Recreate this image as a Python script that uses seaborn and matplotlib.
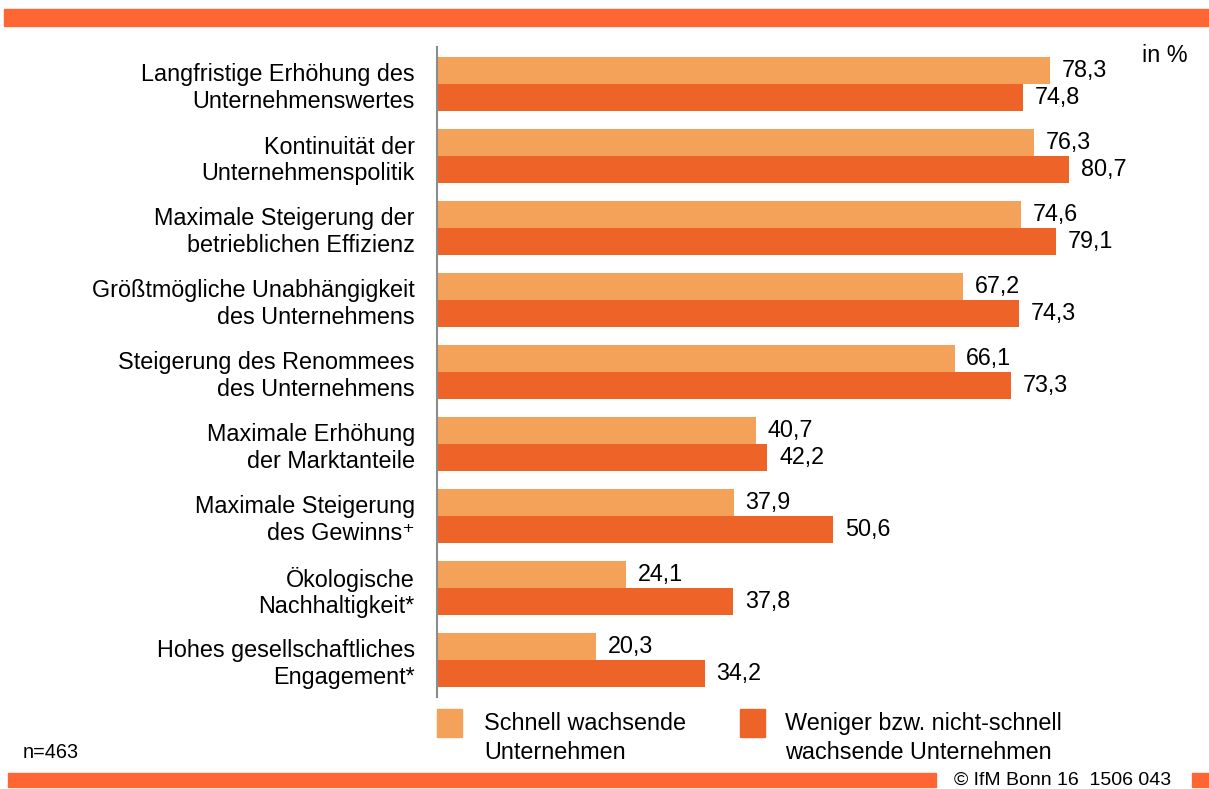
import pandas as pd
import seaborn as sns
import matplotlib.pyplot as plt
from matplotlib.patches import Rectangle

# Ziele der Unternehmen (Anteil in %)
categories = [
    'Langfristige Erhöhung des\nUnternehmenswertes',
    'Kontinuität der\nUnternehmenspolitik',
    'Maximale Steigerung der\nbetrieblichen Effizienz',
    'Größtmögliche Unabhängigkeit\ndes Unternehmens',
    'Steigerung des Renommees\ndes Unternehmens',
    'Maximale Erhöhung\nder Marktanteile',
    'Maximale Steigerung\ndes Gewinns\u207a',
    'Ökologische\nNachhaltigkeit*',
    'Hohes gesellschaftliches\nEngagement*',
]
schnell = [78.3, 76.3, 74.6, 67.2, 66.1, 40.7, 37.9, 24.1, 20.3]
weniger = [74.8, 80.7, 79.1, 74.3, 73.3, 42.2, 50.6, 37.8, 34.2]
series_names = ['Schnell wachsende\nUnternehmen',
                'Weniger bzw. nicht-schnell\nwachsende Unternehmen']
colors = ['#F4A25A', '#EE6327']
band = '#FF6633'

df = pd.DataFrame({
    'ziel': categories * 2,
    'wert': schnell + weniger,
    'gruppe': [series_names[0]] * len(categories) + [series_names[1]] * len(categories),
})

sns.set_style('white')
plt.rcParams['font.family'] = ['Liberation Sans', 'DejaVu Sans']
plt.rcParams['text.color'] = 'black'

W, H = 1209, 789
fs = 16.8
fig = plt.figure(figsize=(W / 100, H / 100), dpi=100)
# axis from x=437 to 1200 px, y from 47 to 697 px
ax = fig.add_axes([437 / W, 1 - 697 / H, (1200 - 437) / W, 650 / H])

sns.barplot(data=df, x='wert', y='ziel', hue='gruppe', hue_order=series_names,
            palette=colors, saturation=1, width=0.75, linewidth=0, ax=ax, legend=False)

ax.set_xlim(0, (1200 - 437) / 7.83)
ax.set_ylim(8 + 37 / 72, -37 / 72)

for cont in ax.containers:
    ax.bar_label(cont, labels=[f'{v:.1f}'.replace('.', ',') for v in cont.datavalues],
                 padding=8.5, fontsize=fs, color='black')

ax.set_xlabel('')
ax.set_ylabel('')
ax.set_xticks([])
ax.tick_params(axis='y', length=0, pad=16, labelsize=fs, labelcolor='black')
for lab in ax.get_yticklabels():
    lab.set_horizontalalignment('right')
    lab.set_multialignment('right')
    lab.set_linespacing(1.2)
for s in ['top', 'right', 'bottom']:
    ax.spines[s].set_visible(False)
ax.spines['left'].set_color('#8c8c8c')
ax.spines['left'].set_linewidth(1.5)

fig.text(1188 / W, 1 - 56 / H, 'in %', ha='right', va='center', fontsize=fs)

# Legende
for i, (x0, tx) in enumerate([(437, 484), (740, 785)]):
    fig.patches.append(Rectangle((x0 / W, 1 - 737 / H), 25 / W, 28 / H,
                                 transform=fig.transFigure, color=colors[i]))
    fig.text(tx / W, 1 - 738 / H, series_names[i], ha='left', va='center',
             fontsize=fs, linespacing=1.32)

fig.text(23 / W, 1 - 753 / H, 'n=463', ha='left', va='center', fontsize=14.3)

# Balken oben und unten
fig.patches.append(Rectangle((4 / W, 1 - 26 / H), (W - 4) / W, 17 / H,
                             transform=fig.transFigure, color=band))
fig.patches.append(Rectangle((8 / W, 1 - 787 / H), (936 - 8) / W, 14 / H,
                             transform=fig.transFigure, color=band))
fig.patches.append(Rectangle((1192 / W, 1 - 787 / H), 17 / W, 14 / H,
                             transform=fig.transFigure, color=band))
fig.text(1063 / W, 1 - 780 / H, '\u00a9 IfM Bonn 16  1506 043', ha='center', va='center',
         fontsize=14)

fig.savefig('out.png', dpi=100)
